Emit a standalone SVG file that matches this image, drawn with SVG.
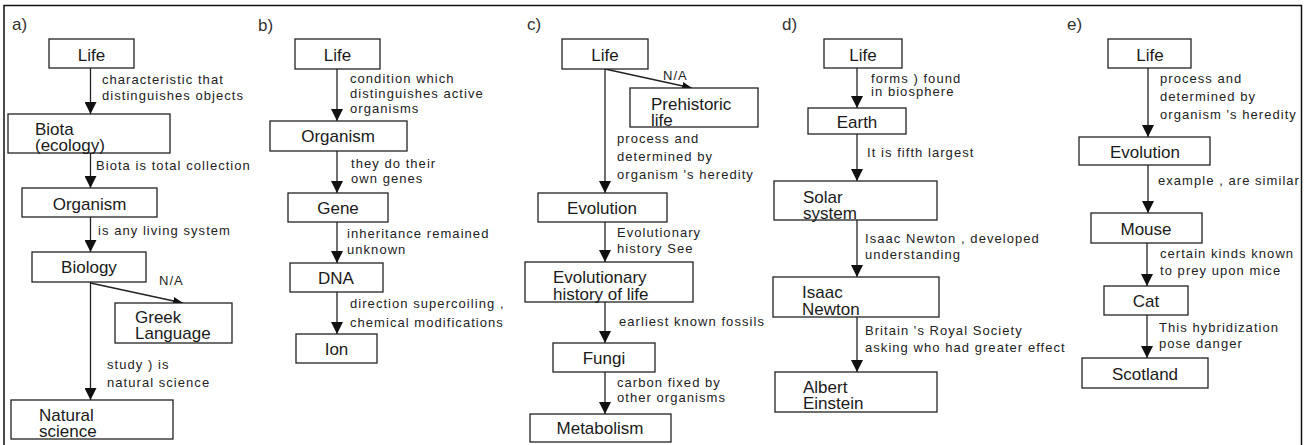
<svg xmlns="http://www.w3.org/2000/svg" width="1307" height="445" viewBox="0 0 1307 445">
  <style>
    .frame { fill: none; stroke: #111; stroke-width: 1.5; }
    .box { fill: #fff; stroke: #222; stroke-width: 1.3; }
    .node { font-family: "Liberation Sans", Arial, sans-serif; font-size: 17px; fill: #1a1a1a; }
    .mid { text-anchor: middle; }
    .edge { fill: none; stroke: #222; stroke-width: 1.3; }
    .lbl { font-family: "Liberation Sans", Arial, sans-serif; font-size: 13px; letter-spacing: 1.05px; fill: #222; }
    .panel { font-family: "Liberation Sans", Arial, sans-serif; font-size: 17px; fill: #333; }
  </style>
  <defs>
    <marker id="ah" viewBox="0 0 12 12" refX="12" refY="6" markerWidth="12" markerHeight="12" markerUnits="userSpaceOnUse" orient="auto">
      <path d="M0,0 L12,6 L0,12 z" fill="#111"/>
    </marker>
    <marker id="ah-sm" viewBox="0 0 10 8" refX="10" refY="4" markerWidth="10" markerHeight="8" markerUnits="userSpaceOnUse" orient="auto">
      <path d="M0,0 L10,4 L0,8 z" fill="#111"/>
    </marker>
  </defs>

  <rect width="1307" height="445" fill="#fff"/>
  <path class="frame" d="M4,446 V5.5 H1301.5 V446"/>

  <!-- panel captions -->
  <g id="captions">
    <text class="panel" x="12" y="30">a)</text>
    <text class="panel" x="258" y="31">b)</text>
    <text class="panel" x="527" y="30">c)</text>
    <text class="panel" x="782" y="30">d)</text>
    <text class="panel" x="1067" y="30">e)</text>
  </g>

  <!-- connectors -->
  <g id="connectors">
    <!-- a -->
    <line class="edge" x1="90.5" y1="68" x2="90.5" y2="114" marker-end="url(#ah)"/>
    <line class="edge" x1="90.5" y1="153" x2="90.5" y2="188" marker-end="url(#ah)"/>
    <line class="edge" x1="90.5" y1="217" x2="90.5" y2="252" marker-end="url(#ah)"/>
    <line class="edge" x1="90.5" y1="282" x2="90.5" y2="400" marker-end="url(#ah)"/>
    <line class="edge" x1="90.5" y1="283" x2="183" y2="303" marker-end="url(#ah-sm)"/>
    <!-- b -->
    <line class="edge" x1="337" y1="69" x2="337" y2="121" marker-end="url(#ah)"/>
    <line class="edge" x1="337" y1="151" x2="337" y2="193" marker-end="url(#ah)"/>
    <line class="edge" x1="337" y1="222" x2="337" y2="263" marker-end="url(#ah)"/>
    <line class="edge" x1="337" y1="292" x2="337" y2="334" marker-end="url(#ah)"/>
    <!-- c -->
    <line class="edge" x1="605" y1="69" x2="605" y2="193" marker-end="url(#ah)"/>
    <line class="edge" x1="605" y1="69" x2="692" y2="88" marker-end="url(#ah-sm)"/>
    <line class="edge" x1="605" y1="222" x2="605" y2="262" marker-end="url(#ah)"/>
    <line class="edge" x1="605" y1="302" x2="605" y2="343" marker-end="url(#ah)"/>
    <line class="edge" x1="605" y1="372" x2="605" y2="414" marker-end="url(#ah)"/>
    <!-- d -->
    <line class="edge" x1="857" y1="68" x2="857" y2="108" marker-end="url(#ah)"/>
    <line class="edge" x1="857" y1="134" x2="857" y2="181" marker-end="url(#ah)"/>
    <line class="edge" x1="857" y1="220" x2="857" y2="277" marker-end="url(#ah)"/>
    <line class="edge" x1="857" y1="317" x2="857" y2="372" marker-end="url(#ah)"/>
    <!-- e -->
    <line class="edge" x1="1148" y1="68" x2="1148" y2="137" marker-end="url(#ah)"/>
    <line class="edge" x1="1148" y1="165" x2="1148" y2="213" marker-end="url(#ah)"/>
    <line class="edge" x1="1147" y1="243" x2="1147" y2="286" marker-end="url(#ah)"/>
    <line class="edge" x1="1147" y1="315" x2="1147" y2="358" marker-end="url(#ah)"/>
  </g>

  <!-- connector labels -->
  <g id="edge-labels">
    <text class="lbl" x="102" y="84">characteristic that</text>
    <text class="lbl" x="102" y="100">distinguishes objects</text>
    <text class="lbl" x="96" y="170">Biota is total collection</text>
    <text class="lbl" x="98" y="235">is any living system</text>
    <text class="lbl" x="159" y="285">N/A</text>
    <text class="lbl" x="107" y="369">study ) is</text>
    <text class="lbl" x="107" y="387">natural science</text>

    <text class="lbl" x="350" y="83">condition which</text>
    <text class="lbl" x="350" y="98">distinguishes active</text>
    <text class="lbl" x="350" y="113">organisms</text>
    <text class="lbl" x="351" y="168">they do their</text>
    <text class="lbl" x="351" y="183">own genes</text>
    <text class="lbl" x="347" y="238">inheritance remained</text>
    <text class="lbl" x="347" y="254">unknown</text>
    <text class="lbl" x="350" y="308">direction supercoiling ,</text>
    <text class="lbl" x="350" y="327">chemical modifications</text>

    <text class="lbl" x="663" y="80">N/A</text>
    <text class="lbl" x="617" y="143">process and</text>
    <text class="lbl" x="617" y="161">determined by</text>
    <text class="lbl" x="617" y="179">organism 's heredity</text>
    <text class="lbl" x="617" y="237">Evolutionary</text>
    <text class="lbl" x="617" y="253">history See</text>
    <text class="lbl" x="619" y="326">earliest known fossils</text>
    <text class="lbl" x="617" y="387">carbon fixed by</text>
    <text class="lbl" x="617" y="402">other organisms</text>

    <text class="lbl" x="871" y="83">forms ) found</text>
    <text class="lbl" x="871" y="96">in biosphere</text>
    <text class="lbl" x="867" y="157">It is fifth largest</text>
    <text class="lbl" x="865" y="243">Isaac Newton , developed</text>
    <text class="lbl" x="865" y="259">understanding</text>
    <text class="lbl" x="865" y="335">Britain 's Royal Society</text>
    <text class="lbl" x="865" y="352">asking who had greater effect</text>

    <text class="lbl" x="1160" y="83">process and</text>
    <text class="lbl" x="1160" y="101">determined by</text>
    <text class="lbl" x="1160" y="119">organism 's heredity</text>
    <text class="lbl" x="1158" y="185">example , are similar</text>
    <text class="lbl" x="1160" y="258">certain kinds known</text>
    <text class="lbl" x="1160" y="275">to prey upon mice</text>
    <text class="lbl" x="1159" y="332">This hybridization</text>
    <text class="lbl" x="1159" y="348">pose danger</text>
  </g>

  <!-- panel a -->
  <g id="a-life"><rect class="box" x="49" y="39" width="85" height="29"/><text class="node mid" x="91.5" y="61">Life</text></g>
  <g id="a-biota"><rect class="box" x="8" y="114" width="162" height="39"/><text class="node" x="35" y="135">Biota</text><text class="node" x="35" y="151">(ecology)</text></g>
  <g id="a-organism"><rect class="box" x="22" y="188" width="135" height="29"/><text class="node mid" x="89.5" y="210">Organism</text></g>
  <g id="a-biology"><rect class="box" x="32" y="252" width="114" height="30"/><text class="node mid" x="89" y="273">Biology</text></g>
  <g id="a-greek"><rect class="box" x="115" y="303" width="117" height="40"/><text class="node" x="135" y="323">Greek</text><text class="node" x="135" y="339">Language</text></g>
  <g id="a-natural-science"><rect class="box" x="11" y="400" width="162" height="39"/><text class="node" x="39" y="421">Natural</text><text class="node" x="39" y="437">science</text></g>

  <!-- panel b -->
  <g id="b-life"><rect class="box" x="295" y="39" width="85" height="30"/><text class="node mid" x="337.5" y="61">Life</text></g>
  <g id="b-organism"><rect class="box" x="270" y="121" width="137" height="30"/><text class="node mid" x="338" y="142">Organism</text></g>
  <g id="b-gene"><rect class="box" x="288" y="193" width="100" height="29"/><text class="node mid" x="338" y="214">Gene</text></g>
  <g id="b-dna"><rect class="box" x="290" y="263" width="93" height="29"/><text class="node mid" x="336" y="284">DNA</text></g>
  <g id="b-ion"><rect class="box" x="296" y="334" width="81" height="29"/><text class="node mid" x="336.5" y="355">Ion</text></g>

  <!-- panel c -->
  <g id="c-life"><rect class="box" x="562" y="39" width="86" height="30"/><text class="node mid" x="605" y="61">Life</text></g>
  <g id="c-prehistoric"><rect class="box" x="630" y="88" width="128" height="39"/><text class="node" x="651" y="110">Prehistoric</text><text class="node" x="651" y="126">life</text></g>
  <g id="c-evolution"><rect class="box" x="538" y="193" width="129" height="29"/><text class="node mid" x="602" y="214">Evolution</text></g>
  <g id="c-evo-history"><rect class="box" x="525" y="262" width="168" height="40"/><text class="node" x="553" y="283">Evolutionary</text><text class="node" x="553" y="300">history of life</text></g>
  <g id="c-fungi"><rect class="box" x="553" y="343" width="102" height="29"/><text class="node mid" x="604" y="364">Fungi</text></g>
  <g id="c-metabolism"><rect class="box" x="530" y="414" width="141" height="28"/><text class="node mid" x="600" y="434">Metabolism</text></g>

  <!-- panel d -->
  <g id="d-life"><rect class="box" x="824" y="39" width="78" height="29"/><text class="node mid" x="863" y="61">Life</text></g>
  <g id="d-earth"><rect class="box" x="808" y="108" width="98" height="26"/><text class="node mid" x="857" y="128">Earth</text></g>
  <g id="d-solar"><rect class="box" x="774" y="181" width="163" height="39"/><text class="node" x="803" y="203">Solar</text><text class="node" x="803" y="219">system</text></g>
  <g id="d-newton"><rect class="box" x="773" y="277" width="166" height="40"/><text class="node" x="802" y="298">Isaac</text><text class="node" x="802" y="315">Newton</text></g>
  <g id="d-einstein"><rect class="box" x="775" y="372" width="162" height="40"/><text class="node" x="803" y="393">Albert</text><text class="node" x="803" y="409">Einstein</text></g>

  <!-- panel e -->
  <g id="e-life"><rect class="box" x="1108" y="39" width="83" height="29"/><text class="node mid" x="1150" y="61">Life</text></g>
  <g id="e-evolution"><rect class="box" x="1079" y="137" width="131" height="28"/><text class="node mid" x="1145" y="158">Evolution</text></g>
  <g id="e-mouse"><rect class="box" x="1091" y="213" width="111" height="30"/><text class="node mid" x="1146" y="235">Mouse</text></g>
  <g id="e-cat"><rect class="box" x="1104" y="286" width="84" height="29"/><text class="node mid" x="1146" y="307">Cat</text></g>
  <g id="e-scotland"><rect class="box" x="1082" y="358" width="126" height="30"/><text class="node mid" x="1145" y="380">Scotland</text></g>
</svg>
